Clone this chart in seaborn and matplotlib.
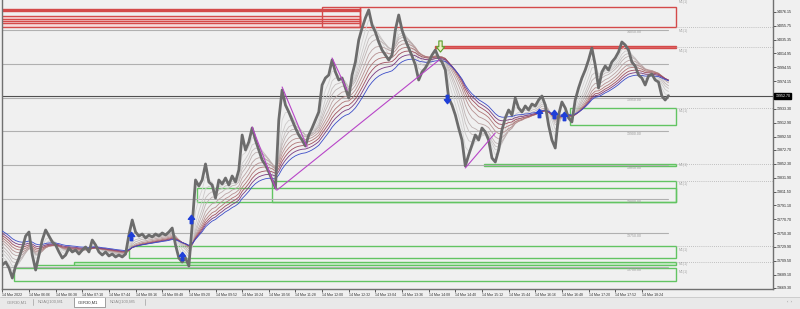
import numpy as np
import pandas as pd
import matplotlib
matplotlib.use("Agg")
import matplotlib.pyplot as plt
from matplotlib.patches import Rectangle
from matplotlib.path import Path
import seaborn as sns

# ---------------- data ----------------
# close price sampled every 4 one-minute bars (bar index = 4 * position)
close = [
    13703.2, 13707.6, 13698.8, 13684.0, 13701.7, 13713.5, 13728.2, 13745.9, 13751.8, 13717.9,
    13695.8, 13717.9, 13740.0, 13754.8, 13745.9, 13737.1, 13732.7, 13722.4, 13713.5, 13717.9,
    13728.2, 13722.4, 13725.3, 13719.4, 13725.3, 13729.7, 13722.4, 13740.0, 13732.7, 13722.4,
    13717.9, 13722.4, 13716.5, 13719.4, 13715.0, 13717.9, 13715.0, 13719.4, 13747.4, 13769.5,
    13751.8, 13745.9, 13748.9, 13743.0, 13747.4, 13744.5, 13748.9, 13745.9, 13750.4, 13747.4,
    13751.8, 13757.7, 13732.7, 13713.5, 13707.6, 13713.5, 13701.7, 13762.1, 13828.5, 13819.6,
    13828.5, 13852.1, 13825.5, 13821.1, 13801.9, 13828.5, 13822.6, 13831.4, 13821.1, 13834.4,
    13825.5, 13843.2, 13894.8, 13872.7, 13884.5, 13905.1, 13887.4, 13872.7, 13858.0, 13850.6,
    13840.3, 13828.5, 13816.7, 13916.9, 13961.1, 13939.0, 13928.7, 13916.9, 13905.1, 13894.8,
    13887.4, 13878.6, 13894.8, 13905.1, 13916.9, 13928.7, 13968.5, 13978.8, 13983.2, 14005.4,
    13987.7, 13975.9, 13978.8, 13964.1, 13949.3, 13983.2, 14002.4, 14034.8, 14052.5, 14067.3,
    14079.1, 14056.9, 14046.6, 14031.9, 14020.1, 14012.7, 14005.4, 14012.7, 14049.6, 14071.7,
    14049.6, 14034.8, 14023.0, 14011.3, 13998.0, 13975.9, 13987.7, 13993.6, 14002.4, 14012.7,
    14020.1, 14008.3, 14002.4, 13990.6, 13949.3, 13939.0, 13924.3, 13905.1, 13887.4, 13849.1,
    13865.3, 13880.1, 13894.8, 13887.4, 13905.1, 13899.2, 13887.4, 13860.9, 13855.0, 13872.7,
    13902.2, 13919.9, 13931.7, 13924.3, 13949.3, 13934.6, 13928.7, 13937.6, 13931.7, 13940.5,
    13937.6, 13946.4, 13952.3, 13939.0, 13909.5, 13887.4, 13875.6, 13924.3, 13943.5, 13934.6,
    13919.9, 13914.0, 13946.4, 13964.1, 13978.8, 13990.6, 14005.4, 14023.0, 13998.0, 13964.1,
    13987.7, 13996.5, 13990.6, 14002.4, 14008.3, 14017.2, 14031.9, 14027.5, 14020.1, 14002.4,
    13996.5, 13983.2, 13978.8, 13968.5, 13981.8, 13984.7, 13975.9, 13972.9, 13952.3, 13946.4,
    13952.7,
]
bars_per_sample = 4
bid = 13952.7

time_tick_bars = [0, 32, 64, 96, 128, 160, 192, 224, 256, 288, 320, 352, 384,
                  416, 448, 480, 512, 544, 576, 608, 640, 672, 704, 736, 768]
time_labels = ["14 Mar 2022", "14 Mar 06:06", "14 Mar 06:38", "14 Mar 07:10", "14 Mar 07:44",
               "14 Mar 08:16", "14 Mar 08:48", "14 Mar 09:20", "14 Mar 09:52", "14 Mar 10:24",
               "14 Mar 10:56", "14 Mar 11:28", "14 Mar 12:00", "14 Mar 12:32", "14 Mar 13:04",
               "14 Mar 13:36", "14 Mar 14:08", "14 Mar 14:40", "14 Mar 15:12", "14 Mar 15:44",
               "14 Mar 16:16", "14 Mar 16:48", "14 Mar 17:20", "14 Mar 17:52", "14 Mar 18:24"]

price_ticks = [14076.15, 14055.75, 14035.35, 14014.95, 13994.55, 13974.15, 13933.30,
               13912.90, 13892.50, 13872.70, 13852.30, 13831.90, 13811.50, 13791.10,
               13770.70, 13750.30, 13729.90, 13709.50, 13689.10, 13669.30]

round_levels = [14050, 14000, 13950, 13900, 13850, 13800, 13750, 13700]

# moving-average ribbon (periods in bars) and their values at the first bar
ribbon_periods = [12, 20, 28, 36, 48, 60, 72, 84, 96, 110]
ribbon_start = [13726, 13730, 13734, 13738, 13742, 13745, 13748, 13751, 13754, 13757]

# zigzag segments: (bar0, price0, bar1, price1)
zigzag = [
    (300, 13906.6, 329, 13813.7),
    (336, 13965.6, 366, 13877.1),
    (396, 14008.3, 414, 13961.1),
    (330, 13813.7, 526, 14006.8),
    (556, 13846.2, 592, 13897.8),
]

# supply zones (red): (bar_start, bar_end, price_low, price_high)
supply_zones = [
    (-2, 429, 14078.3, 14080.5),
    (-2, 429, 14053.3, 14069.5),
    (-2, 429, 14059.9, 14065.8),
    (-2, 429, 14062.8, 14062.8),
    (384, 429, 14053.3, 14083.9),
    (429, 809, 14053.3, 14083.9),
    (520, 809, 14023.0, 14026.7),
]
# demand zones (green)
demand_zones = [
    (682, 809, 13909.6, 13935.3),
    (579, 809, 13848.4, 13852.8),
    (234, 809, 13796.1, 13816.7),
    (324, 809, 13796.1, 13827.0),
    (152, 809, 13712.8, 13730.5),
    (86, 809, 13703.2, 13708.1),
    (41, 86, 13703.2, 13703.2),
    (14, 809, 13679.6, 13698.8),
]
zone_ext_levels = [14053.3, 14024.8, 13935.3, 13852.8, 13827.0, 13730.5, 13708.1]
zone_label_prices = [14091.3, 14048.5, 14019.0, 13930.0, 13850.5, 13822.5, 13725.5, 13704.6, 13692.9]
zone_label_text = "M1(1)"

# signal arrows: (bar, price)
blue_up = [(155, 13746), (216, 13716.5), (226, 13771), (645, 13927), (662, 13925.8), (675, 13922.8)]
blue_down = [(534, 13947.9)]
green_down = [(526, 14026)]

tabs = ["GER30,M1", "NDAQ100,M1", "GER30,M1", "NDAQ100,M5"]

# ---------------- drawing ----------------
sns.set_theme(style="white")
plt.rcParams["font.family"] = ["Liberation Sans", "DejaVu Sans"]

W, H = 800, 309
fig = plt.figure(figsize=(W / 100, H / 100), dpi=100, facecolor="#f0f0f0")
ax = fig.add_axes([2 / W, (H - 289) / H, 771 / W, 289 / H])
ax.set_facecolor("#f0f0f0")

bars = np.arange(len(close)) * bars_per_sample
ax.set_xlim(-0.4, 925.5)
ax.set_ylim(14093.8 - 1.474 * 289, 14093.8)

red = "#d44a4a"
green = "#62c462"

def rect(b0, b1, p0, p1, ec, fc="none", lw=0.9, z=1):
    if p0 == p1:
        ax.plot([b0, b1], [p0, p0], color=ec, lw=lw, zorder=z)
        return
    ax.add_patch(Rectangle((b0, p0), b1 - b0, p1 - p0, ec=ec, fc=fc, lw=lw, zorder=z))

for i, (b0, b1, p0, p1) in enumerate(supply_zones):
    fc = "none"
    if i == 0:
        fc = red
    elif i == 1:
        fc = "#f6dada"
    elif i == 6:
        fc = "#e07070"
    rect(b0, b1, p0, p1, red, fc, lw=1.0)
for i, (b0, b1, p0, p1) in enumerate(demand_zones):
    fc = "#cfeccf" if i in (1, 5) else "none"
    rect(b0, b1, p0, p1, green, fc, lw=1.0)

for lv in zone_ext_levels:
    ax.plot([809, 925.5], [lv, lv], color="#b0b0b0", lw=0.6, ls=(0, (1, 1.5)), zorder=1)
for pz in zone_label_prices:
    ax.text(812, pz, zone_label_text, fontsize=2.5, color="#a8a8a8", va="center", ha="left", zorder=2)

for lv in round_levels:
    ax.plot([-2, 800], [lv, lv], color="#b0b0b0", lw=0.8, zorder=1)
    ax.text(768, lv - 1, f"{lv:.2f}", fontsize=2.5, color="#9a9a9a", ha="right", va="top", zorder=1)

# bid line
ax.axhline(bid, color="#505050", lw=0.8, zorder=2)

# ribbon
rows = []
for k, (per, st) in enumerate(zip(ribbon_periods, ribbon_start)):
    a = 2.0 / (per / bars_per_sample + 1.0)
    v = st
    for b, c in zip(bars, close):
        v = v + a * (c - v)
        rows.append((b, v, f"ma{k}"))
rib = pd.DataFrame(rows, columns=["bar", "value", "line"])
ribbon_colors = ["#d4d4d4", "#cccaca", "#c4bebe", "#bdb2b2", "#baa4a4", "#b69090",
                 "#b07676", "#a04e5e", "#7a3a80", "#3c4cc8"]
sns.lineplot(data=rib, x="bar", y="value", hue="line", palette=ribbon_colors,
             legend=False, linewidth=0.6, ax=ax, zorder=3)

# price
sns.lineplot(x=bars, y=close, color="#6c6c6c", linewidth=2.0, ax=ax, zorder=4)

# zigzag
for b0, p0, b1, p1 in zigzag:
    ax.plot([b0, b1], [p0, p1], color="#b845c8", lw=0.8, zorder=5)

arrow_up = Path([(0, 1), (0.75, 0.05), (0.3, 0.05), (0.3, -1), (-0.3, -1), (-0.3, 0.05),
                 (-0.75, 0.05), (0, 1)], closed=True)
arrow_dn = Path([(0, -1), (0.75, -0.05), (0.3, -0.05), (0.3, 1), (-0.3, 1), (-0.3, -0.05),
                 (-0.75, -0.05), (0, -1)], closed=True)
for b, p in blue_up:
    ax.plot(b, p, marker=arrow_up, ms=6, color="#1f3fd8", mec="#1f3fd8", zorder=6)
for b, p in blue_down:
    ax.plot(b, p, marker=arrow_dn, ms=6, color="#1f3fd8", mec="#1f3fd8", zorder=6)
for b, p in green_down:
    ax.plot(b, p, marker=arrow_dn, ms=8, mfc="#eef0c8", mec="#5a9e2a", mew=0.8, zorder=6)

# axes styling
ax.spines["top"].set_visible(False)
for s in ["left", "right", "bottom"]:
    ax.spines[s].set_color("#707070")
    ax.spines[s].set_linewidth(1.0)
ax.yaxis.tick_right()
ax.set_yticks(price_ticks)
ax.set_yticklabels([f"{v:.2f}" for v in price_ticks])
ax.tick_params(axis="y", right=True, length=2, width=0.6, color="#404040", pad=1,
               labelsize=2.6, labelcolor="#202020")
ax.set_xticks(time_tick_bars)
ax.set_xticklabels(time_labels)
ax.tick_params(axis="x", bottom=True, length=2, width=0.6, color="#404040", pad=0.6,
               labelsize=2.5, labelcolor="#303030")
for t in ax.get_xticklabels():
    t.set_ha("left")
ax.set_xlabel("")
ax.set_ylabel("")

# bid label on axis
ax.text(1.003, (bid - ax.get_ylim()[0]) / (ax.get_ylim()[1] - ax.get_ylim()[0]),
        f"{bid:.2f}", transform=ax.transAxes, fontsize=2.6, color="white", va="center",
        ha="left", bbox=dict(boxstyle="square,pad=0.25", fc="black", ec="black"), zorder=10)

# bottom tab bar
def fx(x):
    return x / W

def fy(y):
    return 1 - y / H

fig.add_artist(Rectangle((0, 0), 1, fy(297), transform=fig.transFigure, fc="#e9e9e9",
                         ec="none", zorder=0))
fig.add_artist(plt.Line2D([0, 1], [fy(297), fy(297)], transform=fig.transFigure,
                          color="#c8c8c8", lw=0.6))
fig.add_artist(Rectangle((fx(74), fy(307)), fx(31), fy(297) - fy(307), transform=fig.transFigure,
                         fc="white", ec="#909090", lw=0.6, zorder=1))
tab_x = [7, 38, 78, 110]
for tx, t in zip(tab_x, tabs):
    fig.text(fx(tx), fy(302.5), t, fontsize=3.0, color="#8a8a8a" if tx != 78 else "#303030",
             ha="left", va="center")
for sx in [33, 145]:
    fig.add_artist(plt.Line2D([fx(sx), fx(sx)], [fy(299), fy(305)], transform=fig.transFigure,
                              color="#a0a0a0", lw=0.5))
fig.text(fx(787), fy(302), "‹  ›", fontsize=3.0, color="#808080", ha="left", va="center")

fig.savefig("out.png", dpi=100, facecolor=fig.get_facecolor())
